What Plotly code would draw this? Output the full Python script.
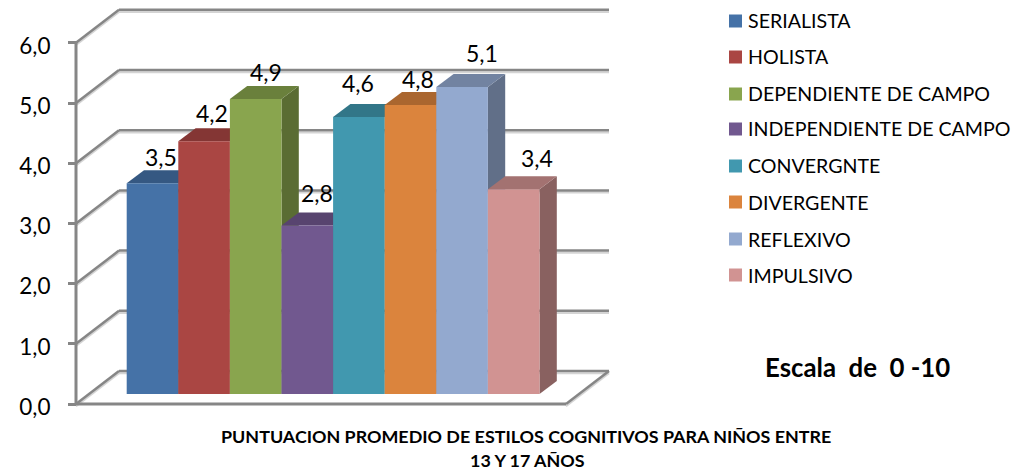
import plotly.graph_objects as go

CATEGORIES = ["SERIALISTA", "HOLISTA", "DEPENDIENTE DE CAMPO", "INDEPENDIENTE DE CAMPO",
              "CONVERGNTE", "DIVERGENTE", "REFLEXIVO", "IMPULSIVO"]
VALUES = [3.5, 4.2, 4.9, 2.8, 4.6, 4.8, 5.1, 3.4]
COLORS = ["#4572A7", "#AA4643", "#89A54E", "#71588F", "#4198AF", "#DB843D", "#93A9CF", "#D19392"]
TICKS = [0, 1, 2, 3, 4, 5, 6]

W, H = 1015, 471
FONT = "Lato"
GRID = "#868686"
SHADOW = "#d4d4d4"

# pixel scale of the fake 3D projection
PX_PER_VALUE = 60.2
PX_PER_BAR = 51.6
ZERO_Y = 404.0
FIRST_BAR_X = 152.5
AXIS_X = 76.0
AXIS_END_X = 566.0
WALL_DX, WALL_DY = 43 / PX_PER_BAR, 33 / PX_PER_VALUE
DEPTH_DX, DEPTH_DY = 17.3 / PX_PER_BAR, 13 / PX_PER_VALUE
BAR_BASE = 10 / PX_PER_VALUE

# label nudges in pixels, from the picture
LABEL_DX = [8, 8, 10, 10, -1, 7, 20, 23]
LABEL_DY = [26, 28, 27, 32, 34, 26, 34, 31]
LEGEND_Y = [21, 57, 94, 129, 166, 202, 239, 275]


def x_of(px):
    return (px - FIRST_BAR_X) / PX_PER_BAR


def shade(color, f):
    r, g, b = int(color[1:3], 16), int(color[3:5], 16), int(color[5:7], 16)
    return f"rgb({int(r * f)},{int(g * f)},{int(b * f)})"


def poly(points):
    return "M" + "L".join(f"{x},{y}" for x, y in points) + "Z"


fig = go.Figure()
left, right = x_of(AXIS_X), x_of(AXIS_END_X)


def grid_line(x0, y0, x1, y1):
    fig.add_shape(type="line", x0=x0, y0=y0 - 2.2 / PX_PER_VALUE, x1=x1, y1=y1 - 2.2 / PX_PER_VALUE,
                  line=dict(color=SHADOW, width=2), layer="below")
    fig.add_shape(type="line", x0=x0, y0=y0, x1=x1, y1=y1,
                  line=dict(color=GRID, width=2.5), layer="below")


def page_text(px, py, text, size, bold=False, xanchor="center"):
    fig.add_annotation(xref="paper", yref="paper", x=px / W, y=1 - py / H, text=text,
                       xanchor=xanchor, yanchor="middle", showarrow=False,
                       font=dict(family=FONT, size=size, color="black", weight="bold" if bold else "normal"))


# Walls
for t in TICKS:
    grid_line(left + WALL_DX, t + WALL_DY, right + WALL_DX, t + WALL_DY)
    grid_line(left, t, left + WALL_DX, t + WALL_DY)
grid_line(right, 0, right + WALL_DX, WALL_DY)
fig.add_shape(type="line", x0=left, y0=0, x1=right, y1=0, line=dict(color=GRID, width=3), layer="below")
fig.add_shape(type="line", x0=left, y0=0, x1=left, y1=TICKS[-1], line=dict(color=GRID, width=3), layer="below")

# Top and side faces, left to right so lower bars cover the side of the one before
for i, (v, c) in enumerate(zip(VALUES, COLORS)):
    x0, x1 = i - 0.5, i + 0.5
    top = v + BAR_BASE
    fig.add_shape(type="path", layer="below", line_width=0, fillcolor=shade(c, 0.66),
                  path=poly([(x1, BAR_BASE), (x1, top), (x1 + DEPTH_DX, top + DEPTH_DY),
                             (x1 + DEPTH_DX, BAR_BASE + DEPTH_DY)]))
    fig.add_shape(type="path", layer="below", line_width=0, fillcolor=shade(c, 0.78),
                  path=poly([(x0, top), (x1, top), (x1 + DEPTH_DX, top + DEPTH_DY),
                             (x0 + DEPTH_DX, top + DEPTH_DY)]))

# Front faces
for i, (name, v, c) in enumerate(zip(CATEGORIES, VALUES, COLORS)):
    fig.add_trace(go.Bar(x=[i], y=[v], base=BAR_BASE, width=1, name=name,
                         marker=dict(color=c, line_width=0), showlegend=False))
    fig.add_annotation(x=i, y=v + BAR_BASE, text=f"{v:.1f}".replace(".", ","), showarrow=False,
                       xshift=LABEL_DX[i], yshift=LABEL_DY[i],
                       font=dict(family=FONT, size=23, color="black"))

# Legend, spaced wider than the plotly legend allows
for name, c, y in zip(CATEGORIES, COLORS, LEGEND_Y):
    fig.add_shape(type="rect", xref="paper", yref="paper", line_width=0, fillcolor=c,
                  x0=729 / W, x1=742 / W, y0=1 - (y + 6.5) / H, y1=1 - (y - 6.5) / H)
    page_text(745.5, y, name, 19.6, xanchor="left")

page_text(857, 367, "Escala  de  0 -10", 25.8, bold=True)
page_text(526, 436, "PUNTUACION PROMEDIO DE ESTILOS COGNITIVOS PARA NIÑOS ENTRE", 17.9, bold=True)
page_text(527, 460, "13 Y 17 AÑOS", 17.9, bold=True)

fig.update_layout(
    width=W, height=H,
    margin=dict(l=0, r=0, t=0, b=0),
    template="plotly_white",
    plot_bgcolor="white",
    separators=",.",
    barmode="overlay",
    showlegend=False,
    xaxis=dict(visible=False, range=[x_of(0), x_of(W)]),
    yaxis=dict(range=[(ZERO_Y - H) / PX_PER_VALUE, ZERO_Y / PX_PER_VALUE],
               anchor="free", position=AXIS_X / W,
               tickvals=TICKS, tickformat=".1f", ticks="outside", ticklen=8, tickwidth=2.5,
               tickcolor=GRID, showgrid=False, zeroline=False, showline=False,
               ticklabelstandoff=13, ticklabelshift=3,
               tickfont=dict(family=FONT, size=22.5, color="black")),
)
# the default 8px body margin would push the figure off the window
fig.write_html("out.html", config={"displayModeBar": False},
               post_script="document.body.style.margin = '0';")
